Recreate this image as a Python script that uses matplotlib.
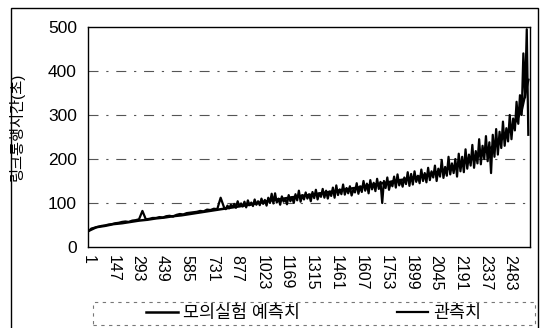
import numpy as np
import matplotlib
matplotlib.use("Agg")
import matplotlib.pyplot as plt
from matplotlib.patches import Rectangle

plt.rcParams['font.family'] = ['Liberation Sans', 'Noto Sans CJK KR', 'DejaVu Sans']

# observed link travel time (sec): every 20 links up to 781, every 10 links after
obs_idx = list(range(1, 800, 20)) + list(range(801, 2582, 10)) + [2590]
obs_val = [
    35, 42, 44, 46, 48, 49, 51, 52, 54, 55,
    57, 58, 57, 60, 61, 63, 82, 63, 64, 66,
    66, 68, 67, 70, 71, 69, 73, 75, 74, 77,
    78, 79, 80, 82, 81, 85, 84, 87, 86, 112,
    # 801 ->
    90, 86, 94, 88, 96, 91, 98, 89, 104, 93,
    99, 92, 103, 90, 106, 95, 101, 93, 108, 96,
    104, 95, 110, 98, 107, 94, 112, 100, 121, 99,
    122, 101, 110, 96, 115, 103, 109, 97, 118, 104,
    113, 100, 120, 106, 128, 103, 118, 108, 124, 110,
    120, 104, 125, 111, 130, 108, 122, 114, 132, 112,
    128, 110, 126, 116, 135, 112, 140, 118, 131, 120,
    142, 119, 134, 122, 138, 117, 130, 124, 145, 121,
    138, 125, 150, 128, 144, 122, 152, 131, 146, 127,
    155, 132, 148, 100, 150, 134, 158, 130, 147, 138,
    160, 135, 165, 140, 152, 137, 158, 143, 170, 139,
    166, 142, 172, 148, 162, 145, 176, 150, 168, 147,
    180, 152, 172, 158, 185, 150, 178, 160, 198, 157,
    182, 162, 205, 165, 190, 168, 200, 160, 212, 172,
    205, 170, 222, 178, 210, 185, 232, 180, 218, 190,
    245, 188, 230, 200, 252, 195, 238, 168, 255, 205,
    268, 210, 262, 225, 285, 230, 270, 240, 300, 245,
    292, 265, 330, 280, 345, 300, 440, 340, 495,
    255,
]

# simulation prediction, sampled every 50 links + last link
pred_idx = list(range(1, 2552, 50)) + [2590]
pred_val = [
    36, 45, 48, 52, 54, 57, 60, 62, 65, 67,
    70, 72, 75, 78, 81, 84, 87, 90, 93, 96,
    100, 104, 107, 110, 113, 116, 118, 121, 124, 127,
    130, 133, 136, 140, 143, 146, 150, 153, 157, 160,
    165, 170, 175, 182, 190, 198, 208, 220, 235, 250,
    275, 310, 380,
]

xticks = list(range(1, 2484, 146))
yticks = [0, 100, 200, 300, 400, 500]
series_names = ['모의실험 예측치', '관측치']

fig = plt.figure(figsize=(5.44, 3.28), dpi=100)
ax = fig.add_axes([88 / 544, 1 - 247 / 328, 442 / 544, 220 / 328])

for y in yticks[1:-1]:
    ax.axhline(y, color='#555555', lw=0.8, linestyle=(0, (9, 7, 2, 7)), zorder=1)

l1, = ax.plot(pred_idx, pred_val, color='black', lw=1.8, zorder=3)
l2, = ax.plot(obs_idx, obs_val, color='black', lw=1.6, zorder=4)

ax.set_xlim(1, 2600)
ax.set_ylim(0, 500)
ax.set_xticks(xticks)
ax.set_xticklabels([str(t) for t in xticks], rotation=-90, fontsize=11.5)
ax.set_yticks(yticks)
ax.set_yticklabels([str(t) for t in yticks], fontsize=12.5)
ax.tick_params(axis='both', length=0)
ax.tick_params(axis='y', pad=8)
ax.tick_params(axis='x', pad=6)
for s in ax.spines.values():
    s.set_linewidth(1.0)
    s.set_color('black')

ax.set_ylabel('링크통행시간(초)', fontsize=11)
ax.yaxis.set_label_coords(-0.1425, 0.545)

# outer frame
fig.patches.append(Rectangle((11 / 544, -0.1), 527 / 544, 1.1 - 8 / 328,
                             transform=fig.transFigure, fill=False,
                             edgecolor='black', lw=1.0))
# legend box
fig.patches.append(Rectangle((93 / 544, 1 - 325 / 328), 442 / 544, 23 / 328,
                             transform=fig.transFigure, fill=False,
                             edgecolor='#777777', lw=0.8, linestyle=(0, (3, 4))))

fig.legend([l1, l2], series_names, loc='center', bbox_to_anchor=(314 / 544, 1 - 313 / 328),
           ncol=2, frameon=False, fontsize=12.5, handlelength=1.8, handletextpad=0.3,
           columnspacing=5.6, borderpad=0)

fig.savefig('out.png', dpi=100)
